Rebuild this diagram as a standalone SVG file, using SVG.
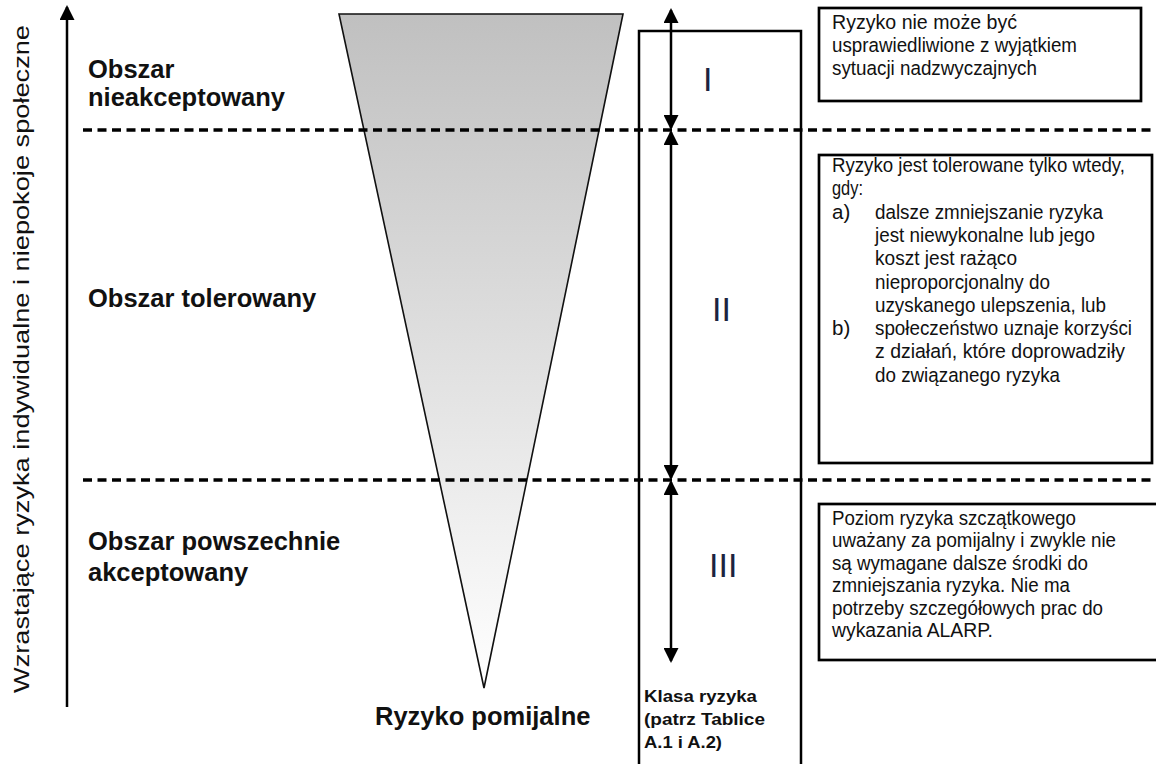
<svg xmlns="http://www.w3.org/2000/svg" width="1156" height="764" viewBox="0 0 1156 764">
  <defs>
    <linearGradient id="funnelGrad" x1="0" y1="0" x2="0" y2="1">
      <stop offset="0" stop-color="#c0c0c0"/>
      <stop offset="1" stop-color="#ffffff"/>
    </linearGradient>
    <marker id="arrow" viewBox="0 0 15 15" refX="13" refY="7.5" markerWidth="15" markerHeight="15" markerUnits="userSpaceOnUse" orient="auto-start-reverse">
      <path d="M0,0 L15,7.5 L0,15 z" fill="#000"/>
    </marker>
    <style>
      .lbl { font-family: "Liberation Sans", Arial, sans-serif; font-weight: bold; font-size: 25.5px; fill: #111; }
      .txt { font-family: "Liberation Sans", Arial, sans-serif; font-size: 20.5px; fill: #111; }
      .txt3 { font-family: "Liberation Sans", Arial, sans-serif; font-size: 19.5px; fill: #111; }
      .cls { font-family: "Liberation Sans", Arial, sans-serif; font-weight: bold; font-size: 16.5px; fill: #111; }
      .num { font-family: "Liberation Sans", Arial, sans-serif; font-size: 34px; fill: #1c2340; }
      .axis { font-family: "Liberation Sans", Arial, sans-serif; font-size: 21.5px; fill: #111; }
      .dash { stroke: #000; stroke-width: 3.5; stroke-dasharray: 9 5.5; fill: none; }
      .box { fill: #fff; stroke: #000; stroke-width: 2.7; }
      .conn { stroke: #000; stroke-width: 2.5; fill: none; }
    </style>
  </defs>

  <rect width="1156" height="764" fill="#fff"/>

  <!-- funnel -->
  <g id="funnel">
    <polygon points="339,14 623,14 484,688" fill="url(#funnelGrad)" stroke="#111" stroke-width="1.6" stroke-linejoin="miter"/>
  </g>

  <!-- dashed boundaries -->
  <g id="boundaries">
    <line class="dash" x1="83" y1="130" x2="1152" y2="130"/>
    <line class="dash" x1="83" y1="480" x2="1156" y2="480"/>
  </g>

  <!-- risk class column -->
  <g id="class-column">
    <path d="M639,770 V31 H801 V770" fill="none" stroke="#000" stroke-width="2.5"/>
    <text class="num" x="703" y="91">I</text>
    <text class="num" x="712" y="321">II</text>
    <text class="num" x="709" y="577">III</text>
    <text class="cls" x="644" y="702" textLength="113" lengthAdjust="spacingAndGlyphs">Klasa ryzyka</text>
    <text class="cls" x="644" y="725" textLength="121" lengthAdjust="spacingAndGlyphs">(patrz Tablice</text>
    <text class="cls" x="644" y="748" textLength="78" lengthAdjust="spacingAndGlyphs">A.1 i A.2)</text>
  </g>

  <!-- connectors -->
  <g id="connectors">
    <line class="conn" x1="67" y1="707" x2="67" y2="7" marker-end="url(#arrow)"/>
    <line class="conn" x1="671" y1="10" x2="671" y2="128" marker-start="url(#arrow)" marker-end="url(#arrow)"/>
    <line class="conn" x1="671" y1="132" x2="671" y2="478" marker-start="url(#arrow)" marker-end="url(#arrow)"/>
    <line class="conn" x1="671" y1="482" x2="671" y2="661" marker-start="url(#arrow)" marker-end="url(#arrow)"/>
  </g>

  <!-- axis label -->
  <g id="axis-label">
    <text class="axis" transform="translate(29,359) rotate(-90)" text-anchor="middle" textLength="668" lengthAdjust="spacingAndGlyphs">Wzrastające ryzyka  indywidualne i niepokoje społeczne</text>
  </g>

  <!-- region labels -->
  <g id="region-unacceptable">
    <text class="lbl" x="88" y="78">Obszar</text>
    <text class="lbl" x="88" y="106">nieakceptowany</text>
  </g>
  <g id="region-tolerable">
    <text class="lbl" x="88" y="307">Obszar tolerowany</text>
  </g>
  <g id="region-acceptable">
    <text class="lbl" x="88" y="550">Obszar powszechnie</text>
    <text class="lbl" x="88" y="581">akceptowany</text>
  </g>
  <g id="negligible">
    <text class="lbl" x="375" y="725">Ryzyko pomijalne</text>
  </g>

  <!-- description boxes -->
  <g id="box-I">
    <rect class="box" x="819" y="8" width="322" height="93"/>
    <text class="txt" x="832" y="29" textLength="185" lengthAdjust="spacingAndGlyphs">Ryzyko  nie  może być</text>
    <text class="txt" x="832" y="52" textLength="245" lengthAdjust="spacingAndGlyphs">usprawiedliwione z wyjątkiem</text>
    <text class="txt" x="832" y="75" textLength="205" lengthAdjust="spacingAndGlyphs">sytuacji nadzwyczajnych</text>
  </g>

  <g id="box-II">
    <rect class="box" x="819" y="155" width="333" height="308"/>
    <text class="txt" x="832" y="172" textLength="293" lengthAdjust="spacingAndGlyphs">Ryzyko jest tolerowane tylko wtedy,</text>
    <text class="txt" x="832" y="195.3" textLength="31" lengthAdjust="spacingAndGlyphs">gdy:</text>
    <text class="txt" x="832" y="218.6">a)</text>
    <text class="txt" x="875" y="218.6" textLength="228" lengthAdjust="spacingAndGlyphs">dalsze zmniejszanie ryzyka</text>
    <text class="txt" x="875" y="241.9" textLength="220" lengthAdjust="spacingAndGlyphs">jest niewykonalne lub jego</text>
    <text class="txt" x="875" y="265.2" textLength="142" lengthAdjust="spacingAndGlyphs">koszt jest rażąco</text>
    <text class="txt" x="875" y="288.5" textLength="175" lengthAdjust="spacingAndGlyphs">nieproporcjonalny do</text>
    <text class="txt" x="875" y="311.8" textLength="231" lengthAdjust="spacingAndGlyphs">uzyskanego ulepszenia, lub</text>
    <text class="txt" x="832" y="335.1">b)</text>
    <text class="txt" x="875" y="335.1" textLength="257" lengthAdjust="spacingAndGlyphs">społeczeństwo uznaje korzyści</text>
    <text class="txt" x="875" y="358.4" textLength="250" lengthAdjust="spacingAndGlyphs">z działań, które doprowadziły</text>
    <text class="txt" x="875" y="381.7" textLength="185" lengthAdjust="spacingAndGlyphs">do związanego ryzyka</text>
  </g>

  <g id="box-III">
    <rect class="box" x="819" y="504" width="345" height="156"/>
    <text class="txt3" x="832" y="525" textLength="244" lengthAdjust="spacingAndGlyphs">Poziom ryzyka szczątkowego</text>
    <text class="txt3" x="832" y="547.4" textLength="284" lengthAdjust="spacingAndGlyphs">uważany za pomijalny i zwykle nie</text>
    <text class="txt3" x="832" y="569.8" textLength="256" lengthAdjust="spacingAndGlyphs">są wymagane dalsze środki do</text>
    <text class="txt3" x="832" y="592.2" textLength="238" lengthAdjust="spacingAndGlyphs">zmniejszania ryzyka. Nie ma</text>
    <text class="txt3" x="832" y="614.6" textLength="271" lengthAdjust="spacingAndGlyphs">potrzeby szczegółowych prac do</text>
    <text class="txt3" x="832" y="637" textLength="161" lengthAdjust="spacingAndGlyphs">wykazania ALARP.</text>
  </g>
</svg>
